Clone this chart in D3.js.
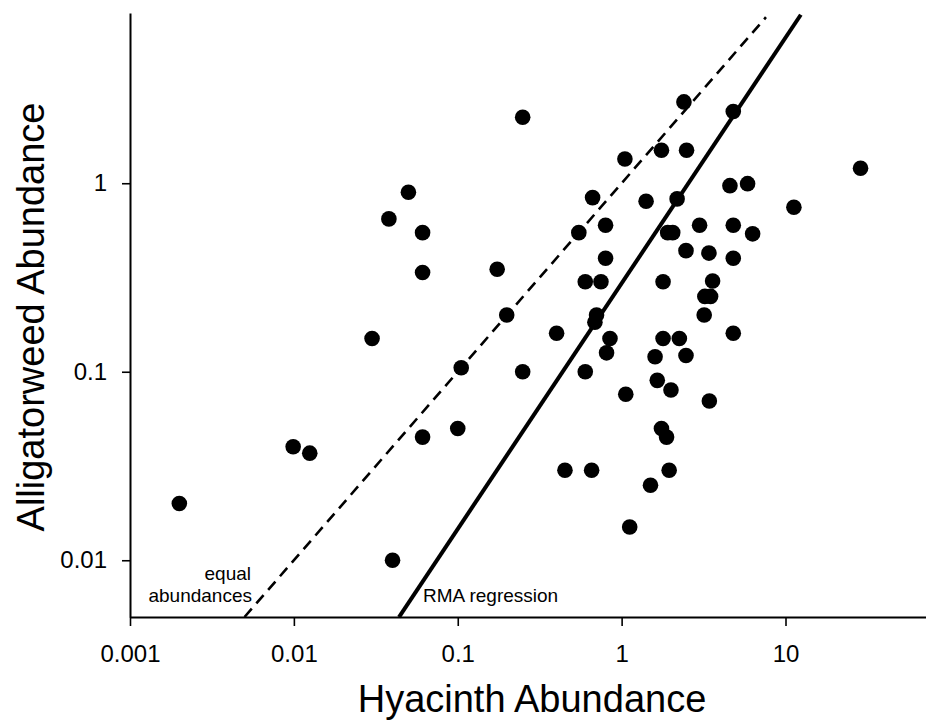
<!DOCTYPE html>
<html>
<head>
<meta charset="utf-8">
<script src="https://cdn.jsdelivr.net/npm/d3@7"></script>
<style>
  html, body { margin: 0; padding: 0; background: #fff; }
  svg { display: block; }
  text { font-family: "Liberation Sans", Arial, sans-serif; fill: #000; }
</style>
</head>
<body>
<svg id="chart" width="926" height="720"></svg>
<script>
// ---- data ----
const hyacinth = [
  0.002, 0.0099, 0.0125, 0.030, 0.038, 0.050, 0.061, 0.061, 0.061, 0.040,
  0.100, 0.105, 0.174, 0.199, 0.249, 0.249, 0.401, 0.451, 0.548, 0.600,
  0.600, 0.656, 0.665, 0.703, 0.687, 0.748, 0.798, 0.798, 0.809, 0.849,
  1.047, 1.06, 1.12, 1.41, 1.50, 1.60, 1.65, 1.75, 1.75, 1.88,
  1.79, 1.79, 1.91, 2.05, 1.95, 2.00, 2.18, 2.25, 2.40, 2.49,
  2.47, 2.47, 2.99, 3.19, 3.22, 3.49, 3.41, 3.43, 3.59, 4.58,
  4.80, 4.80, 4.80, 4.80, 5.87, 6.30, 11.25, 28.7
];
const alligatorweed = [
  0.020, 0.040, 0.037, 0.150, 0.647, 0.896, 0.547, 0.336, 0.045, 0.010,
  0.050, 0.105, 0.350, 0.200, 2.24, 0.100, 0.160, 0.030, 0.547, 0.300,
  0.100, 0.030, 0.839, 0.200, 0.183, 0.300, 0.599, 0.400, 0.126, 0.150,
  1.345, 0.076, 0.015, 0.803, 0.025, 0.120, 0.090, 1.496, 0.050, 0.045,
  0.300, 0.150, 0.547, 0.547, 0.030, 0.080, 0.826, 0.150, 2.70, 1.496,
  0.439, 0.122, 0.599, 0.200, 0.251, 0.251, 0.426, 0.070, 0.303, 0.971,
  2.40, 0.599, 0.400, 0.160, 0.995, 0.539, 0.746, 1.20
];
const xTicks = [0.001, 0.01, 0.1, 1, 10];
const xTickLabels = ["0.001", "0.01", "0.1", "1", "10"];
const yTicks = [0.01, 0.1, 1];
const yTickLabels = ["0.01", "0.1", "1"];
const xDomain = [0.001, 72];
const yDomain = [0.005, 8];
// equal abundances line (y = x) endpoints
const equalLine = [[0.005, 0.005], [7.6, 7.6]];
// RMA regression: log10(y) = slope*log10(x) + intercept
const rmaSlope = 1.303;
const rmaIntercept = -0.531;
const rmaXRange = [0.0438, 12.4];

// ---- layout ----
const svg = d3.select("#chart");
const mLeft = 130, mRight = 926, mTop = 13, mBottom = 617;

const x = d3.scaleLog().domain(xDomain).range([mLeft, mRight]);
const y = d3.scaleLog().domain(yDomain).range([mBottom, mTop]);

// axes
const xAxis = d3.axisBottom(x)
  .tickValues(xTicks)
  .tickFormat((d, i) => xTickLabels[i])
  .tickSize(9).tickSizeOuter(0).tickPadding(19);
const yAxis = d3.axisLeft(y)
  .tickValues(yTicks)
  .tickFormat((d, i) => yTickLabels[i])
  .tickSize(8).tickSizeOuter(0).tickPadding(15);

const gx = svg.append("g").attr("transform", `translate(0,${mBottom})`).call(xAxis);
const gy = svg.append("g").attr("transform", `translate(${mLeft},0)`).call(yAxis);
[gx, gy].forEach(g => {
  g.select(".domain").attr("stroke", "#000").attr("stroke-width", 2);
  g.selectAll(".tick line").attr("stroke", "#000").attr("stroke-width", 1.6);
  g.selectAll(".tick text")
    .attr("font-family", "Liberation Sans, Arial, sans-serif")
    .attr("font-size", 24).attr("fill", "#000");
});

// lines
const lineGen = d3.line().x(d => x(d[0])).y(d => y(d[1]));
svg.append("path")
  .datum(equalLine)
  .attr("d", lineGen)
  .attr("fill", "none")
  .attr("stroke", "#000")
  .attr("stroke-width", 2.6)
  .attr("stroke-dasharray", "11,7");

const rmaLine = rmaXRange.map(v => [v, Math.pow(10, rmaSlope * Math.log10(v) + rmaIntercept)]);
svg.append("path")
  .datum(rmaLine)
  .attr("d", lineGen)
  .attr("fill", "none")
  .attr("stroke", "#000")
  .attr("stroke-width", 4);

// points
svg.append("g")
  .selectAll("circle")
  .data(hyacinth.map((v, i) => [v, alligatorweed[i]]))
  .join("circle")
  .attr("cx", d => x(d[0]))
  .attr("cy", d => y(d[1]))
  .attr("r", 7.8)
  .attr("fill", "#000");

// annotations
const ann = svg.append("g").attr("font-size", 19);
ann.append("text").attr("x", 251).attr("y", 580).attr("text-anchor", "end").text("equal");
ann.append("text").attr("x", 252).attr("y", 602).attr("text-anchor", "end").text("abundances");
ann.append("text").attr("x", 423).attr("y", 602).attr("text-anchor", "start").text("RMA regression");

// axis titles
svg.append("text")
  .attr("x", 532).attr("y", 712)
  .attr("text-anchor", "middle")
  .attr("font-size", 38)
  .text("Hyacinth Abundance");
svg.append("text")
  .attr("transform", "translate(44,317) rotate(-90)")
  .attr("text-anchor", "middle")
  .attr("font-size", 38)
  .text("Alligatorweed Abundance");
</script>
</body>
</html>
